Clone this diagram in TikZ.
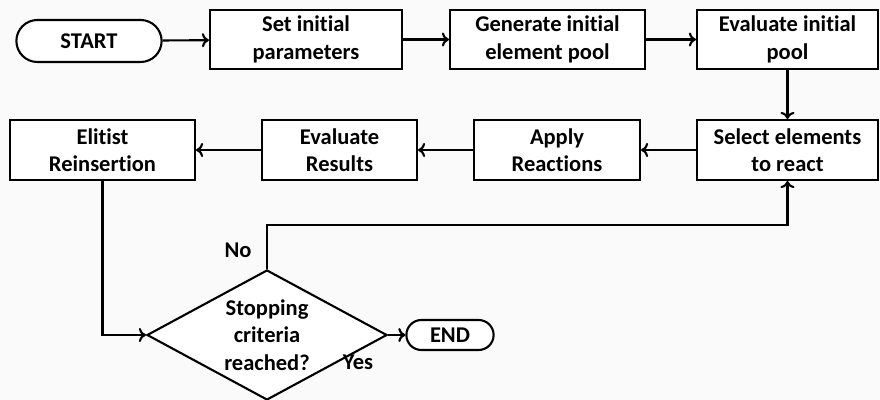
\documentclass[tikz,border=0pt]{standalone}
\usepackage{fontspec}
\setmainfont{Carlito}[Ligatures=NoCommon]
\usetikzlibrary{shapes.geometric,shapes.misc,arrows.meta}

\begin{document}
\begin{tikzpicture}[x=0.025cm,y=-0.025cm,
	font=\fontsize{16}{19.5}\selectfont\bfseries,
	box/.style={draw,line width=1.5pt,fill=white,align=center,inner sep=1pt,minimum height=1.5cm},
	term/.style={draw,rounded rectangle,line width=1.5pt,fill=white,inner sep=1pt},
	link/.style={line width=1.5pt,-{To[length=5pt,width=10pt]}}]
			%%%%% START %%%%%
			
			\useasboundingbox (0,0) rectangle (880,400);
			\fill[gray!4] (0,0) rectangle (880,400);
			
			% top row
			\node[term,minimum width=3.7cm,minimum height=1.05cm] (start) at (89,41) {START};
			\node[box,minimum width=4.8cm,minimum height=1.475cm] (setp) at (306,39.5) {Set initial\\parameters};
			\node[box,minimum width=4.875cm,minimum height=1.475cm] (gen) at (547.5,39.5) {Generate initial\\element pool};
			\node[box,minimum width=4.525cm,minimum height=1.475cm] (evalp) at (787.5,39.5) {Evaluate initial\\pool};
			
			% second row
			\node[box,minimum width=4.625cm] (elit) at (102.5,150) {Elitist\\Reinsertion};
			\node[box,minimum width=3.875cm] (evalr) at (339.5,150) {Evaluate\\Results};
			\node[box,minimum width=4.15cm] (apply) at (557,150) {Apply\\Reactions};
			\node[box,minimum width=4.525cm] (select) at (787.5,150) {Select elements\\to react};
			
			% decision
			\node[draw,diamond,line width=1.5pt,fill=white,align=center,inner sep=0pt,aspect=1.85,
				minimum width=6cm,minimum height=3.25cm] (stop) at (267,335) {Stopping\\criteria\\reached?};
			\node[term,minimum width=2.25cm,minimum height=0.75cm] (end) at (450,335) {END};
			\coordinate (turn) at (267,225);
			
			\draw[link] (start) -- (setp);
			\draw[link] (setp) -- (gen);
			\draw[link] (gen) -- (evalp);
			\draw[link] (evalp) -- (select);
			\draw[link] (select) -- (apply);
			\draw[link] (apply) -- (evalr);
			\draw[link] (evalr) -- (elit);
			\draw[link] (elit.south) |- (stop.west);
			\draw[link] (stop.east) -- (end);
			\draw[link] (stop.north) -- (turn) -| (select.south);
			
			\node (no) at (238,250) {No};
			\node (yes) at (358,362) {Yes};
			
			%%%%% END %%%%%
		\end{tikzpicture}
\end{document}
